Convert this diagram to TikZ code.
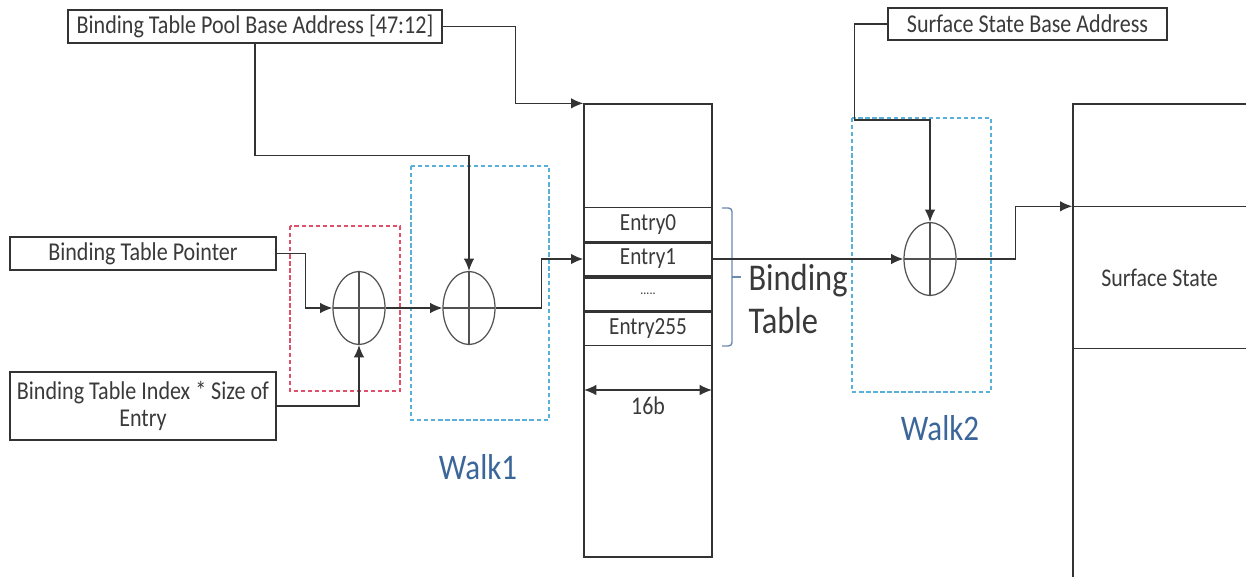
\documentclass[tikz,border=0pt]{standalone}
\usepackage{fontspec}
\setmainfont{Carlito}[FakeStretch=0.86]
\usetikzlibrary{arrows.meta, positioning, shapes.geometric, calc}
\definecolor{cline}{HTML}{333333}
\definecolor{cred}{HTML}{E0506A}
\definecolor{cblue}{HTML}{5AB0D8}
\definecolor{cwalk}{HTML}{3B6699}
\definecolor{cbrace}{HTML}{6A8AB0}
\definecolor{ctext}{HTML}{3A3A3A}
\tikzset{
  every picture/.style={line width=0.8pt},
  box/.style={draw=cline, fill=white, align=center, inner sep=1pt, font=\fontsize{14.6}{15}\selectfont, text=ctext},
  entry/.style={draw=cline, minimum width=2.56cm, minimum height=0.69cm, inner sep=0pt, font=\fontsize{14}{15}\selectfont, text=ctext},
  adder/.style={ellipse, draw=cline!85, line width=0.7pt, minimum width=1.04cm, minimum height=1.46cm, inner sep=0pt,
    path picture={\draw[cline!85, line width=0.7pt] (path picture bounding box.north) -- (path picture bounding box.south)
                  (path picture bounding box.west) -- (path picture bounding box.east);}},
  arrow/.style={-{Latex[length=7pt, width=6pt]}, draw=cline},
  dimarrow/.style={{Latex[length=7pt, width=6pt]}-{Latex[length=7pt, width=6pt]}, draw=cline},
  walkbox/.style={draw=#1, line width=0.6pt, dash pattern=on 2.5pt off 1.5pt},
  walklabel/.style={font=\fontsize{20.5}{24}\selectfont, text=cwalk},
}
\begin{document}
\begin{tikzpicture}[x=0.02cm, y=-0.02cm]
  \clip (0,0) rectangle (1246,577);
  \fill[white] (0,0) rectangle (1246,577);
  % walk regions
  \draw[walkbox=cred] (290,226) rectangle (400,391);
  \draw[walkbox=cblue] (411,166) rectangle (549,420);
  \draw[walkbox=cblue] (852,118) rectangle (991,392);
  \node[walklabel] (w1) at (478,467) {Walk1};
  \node[walklabel] (w2) at (940,428) {Walk2};
  % address inputs
  \node[box, minimum width=7.48cm, minimum height=0.66cm] (pool) at (255,26.5) {Binding Table Pool Base Address [47:12]};
  \node[box, minimum width=5.58cm, minimum height=0.64cm] (ssb) at (1027.5,24) {Surface State Base Address};
  \node[box, minimum width=5.32cm, minimum height=0.66cm] (ptr) at (143,253.5) {Binding Table Pointer};
  \node[box, minimum width=5.32cm, minimum height=1.36cm] (idx) at (143,406) {Binding Table Index * Size of\\Entry};
  % adders
  \node[adder] (add1) at (359,308) {};
  \node[adder] (add2) at (469,308) {};
  \node[adder] (add3) at (930,259) {};
  % binding table
  \node[draw=cline, minimum width=2.56cm, minimum height=9.06cm, inner sep=0pt] (bt) at (648,330.5) {};
  \node[entry] (e0) at (648,224.5) {Entry0};
  \node[entry] (e1) at (648,259) {Entry1};
  \node[entry, font=\fontsize{8}{9}\selectfont] (e2) at (648,293.5) {.....};
  \node[entry] (e3) at (648,328) {Entry255};
  \foreach \i in {0,1,2} \draw[cline, line width=1.8pt] (e\i.south west) -- (e\i.south east);
  \draw[cbrace, rounded corners=2pt] (722,208) -- (732,208) -- (732,346) -- (722,346);
  \draw[cbrace] (732,277) -- (741,277);
  \node[font=\fontsize{21.5}{24}\selectfont, text=ctext, align=left, anchor=west] (btlab) at (742,299) {Binding\\Table};
  \coordinate (wl) at (584,390);
  \coordinate (wr) at (712,390);
  \draw[dimarrow] (wl) -- node[below=0pt, font=\fontsize{14.5}{15}\selectfont, text=ctext] (wlab) {16b} (wr);
  % surface state
  \draw[cline] (1246,104) -- (1073,104) -- (1073,577);
  \node[minimum width=3.46cm, minimum height=2.82cm, inner sep=0pt, font=\fontsize{14.5}{15}\selectfont, text=ctext] (ss) at (1159.5,277.5) {Surface State};
  \draw[cline] (ss.north west) -- (ss.north east) (ss.south west) -- (ss.south east);
  % connectors
  \draw[arrow] (pool.east) -- ++(73,0) |- (bt.north west);
  \draw[arrow] (pool.south) -- ++(0,112) -| (add2.north);
  \draw[arrow] (ptr.east) -- ++(29,0) |- (add1.west);
  \draw[arrow] (idx.east) -| (add1.south);
  \draw[arrow] (add1.east) -- (add2.west);
  \draw[arrow] (add2.east) -- ++(46,0) |- (e1.west);
  \draw[arrow] (e1.east) -- (add3.west);
  \draw[arrow] (ssb.west) -- ++(-33,0) -- ++(0,96) -| (add3.north);
  \draw[arrow] (add3.east) -- ++(59,0) |- (ss.north west);
\end{tikzpicture}
\end{document}
